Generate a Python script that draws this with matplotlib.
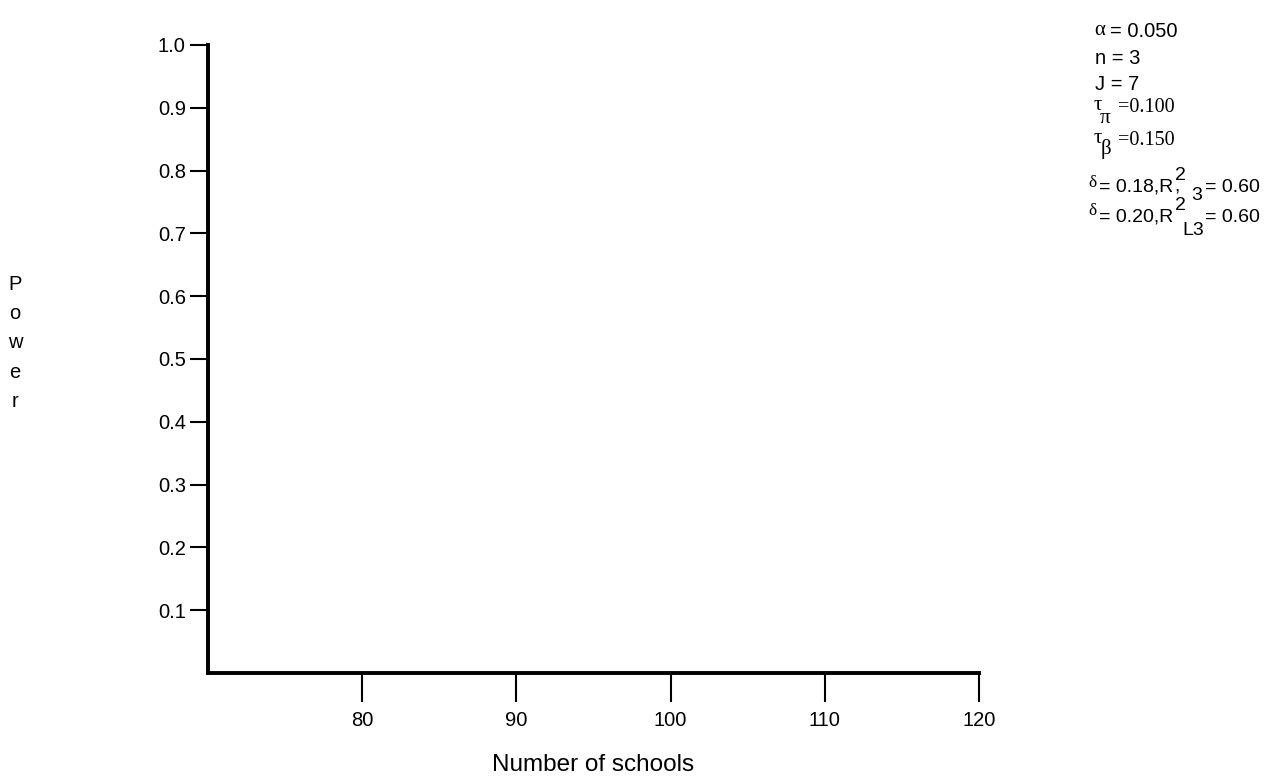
import matplotlib
matplotlib.use("Agg")
import matplotlib.pyplot as plt

x_ticks = [80, 90, 100, 110, 120]
y_ticks = [0.1, 0.2, 0.3, 0.4, 0.5, 0.6, 0.7, 0.8, 0.9, 1.0]
x_limits = (70, 120)
y_limits = (0, 1.0)
x_label = "Number of schools"
y_label = "Power"

alpha = 0.050
n = 3
J = 7
tau_pi = 0.100
tau_beta = 0.150
deltas = [0.18, 0.20]
r2_values = [0.60, 0.60]

plt.rcParams['font.family'] = ['Liberation Sans', 'DejaVu Sans']

W, H = 1274, 781
fig = plt.figure(figsize=(W / 100, H / 100), dpi=100)
ax = fig.add_axes([208 / W, 1 - 673 / H, (979 - 208) / W, (673 - 45) / H])

ax.set_xlim(*x_limits)
ax.set_ylim(*y_limits)
ax.set_xticks(x_ticks)
ax.set_yticks(y_ticks)
ax.set_xticklabels([str(v) for v in x_ticks], fontsize=14.5)
ax.set_yticklabels([f"{v:.1f}" for v in y_ticks], fontsize=14.5)
for s in ['top', 'right']:
    ax.spines[s].set_visible(False)
for s in ['left', 'bottom']:
    ax.spines[s].set_linewidth(2.8)
ax.tick_params(axis='x', direction='out', length=21, width=1.5, pad=6)
ax.tick_params(axis='y', direction='out', length=13, width=1.5, pad=3)

ax.set_xlabel(x_label, fontsize=17.5, va='baseline')
ax.xaxis.set_label_coords(0.5, (673 - 771) / 628)


def px(x, y):
    return x / W, 1 - y / H


# vertical stacked y label
for i, ch in enumerate(y_label):
    fig.text(*px(15, 290 + i * 29.25), ch, fontsize=14.5, ha='center', va='baseline')

serif = ['Liberation Serif', 'DejaVu Serif']
fs = 14.5
rs = 14
gs = 15


def t(x, y, s, size=fs, family=None):
    kw = {'family': family} if family else {}
    fig.text(*px(x, y), s, fontsize=size, ha='left', va='baseline', **kw)


t(1094, 35, "\u03b1", gs, serif)
t(1110, 37, f"= {alpha:.3f}")
t(1095, 64, f"n = {n}")
t(1095, 90, f"J = {J}")
t(1094, 110, "\u03c4", gs, serif)
t(1100, 123, "\u03c0", gs, serif)
t(1118, 112, f"={tau_pi:.3f}", fs, serif)
t(1094, 143, "\u03c4", gs, serif)
t(1101, 154, "\u03b2", gs, serif)
t(1118, 145, f"={tau_beta:.3f}", fs, serif)

# first delta row
t(1088, 187, "\u03b4", 12.5, serif)
t(1099, 192, f"= {deltas[0]:.2f},R", rs)
t(1175, 180, "2", rs)
t(1174, 192, ",", rs)
t(1191, 200, "3", rs)
t(1205, 192, f"= {r2_values[0]:.2f}", rs)

# second delta row
t(1088, 215, "\u03b4", 12.5, serif)
t(1099, 222, f"= {deltas[1]:.2f},R", rs)
t(1175, 210, "2", rs)
t(1182, 235, "L3", rs)
t(1205, 222, f"= {r2_values[1]:.2f}", rs)

fig.savefig("out.png", dpi=100)
